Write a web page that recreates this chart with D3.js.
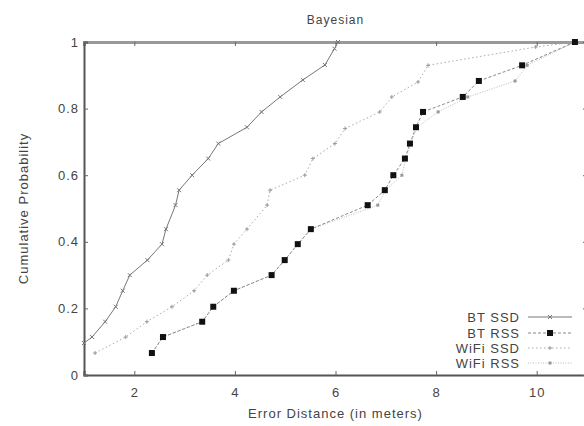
<!DOCTYPE html>
<html>
<head>
<meta charset="utf-8">
<script src="https://cdn.jsdelivr.net/npm/d3@7"></script>
<style>
  body { margin: 0; background: #fff; }
  text { font-family: "Liberation Sans", Arial, sans-serif; fill: #444; letter-spacing: 1px; }
</style>
</head>
<body>
<div id="chart"></div>
<script>
// chart values
var xTicks = [2, 4, 6, 8, 10];
var yTicks = [0, 0.2, 0.4, 0.6, 0.8, 1];
var seriesNames = ["BT SSD", "BT RSS", "WiFi SSD", "WiFi RSS"];

var btSsd = [[1.0, 0.096], [1.16, 0.114], [1.42, 0.16], [1.63, 0.205], [1.77, 0.253], [1.91, 0.30],
  [2.26, 0.345], [2.55, 0.393], [2.63, 0.438], [2.82, 0.51], [2.89, 0.555], [3.15, 0.60],
  [3.47, 0.65], [3.67, 0.695], [4.24, 0.744], [4.53, 0.79], [4.90, 0.835], [5.35, 0.886],
  [5.79, 0.931], [5.98, 0.98], [6.05, 1.0]];
var btRss = [[2.35, 0.066], [2.57, 0.114], [3.35, 0.16], [3.57, 0.205], [3.98, 0.253], [4.73, 0.30],
  [4.99, 0.345], [5.25, 0.393], [5.51, 0.438], [6.64, 0.51], [6.98, 0.555], [7.15, 0.60],
  [7.38, 0.65], [7.48, 0.695], [7.60, 0.744], [7.74, 0.79], [8.53, 0.835], [8.85, 0.883],
  [9.71, 0.93], [10.76, 1.0]];
var wifiSsd = [[1.22, 0.066], [1.83, 0.114], [2.25, 0.16], [2.75, 0.205], [3.19, 0.253], [3.45, 0.30],
  [3.87, 0.345], [3.98, 0.393], [4.24, 0.438], [4.64, 0.51], [4.70, 0.555], [5.39, 0.60],
  [5.55, 0.65], [5.99, 0.695], [6.19, 0.74], [6.88, 0.79], [7.12, 0.835], [7.64, 0.88],
  [7.84, 0.93], [9.98, 0.985], [10.76, 1.0]];
var wifiRss = [[2.35, 0.066], [2.57, 0.114], [3.35, 0.16], [3.57, 0.205], [3.98, 0.253], [4.73, 0.30],
  [4.99, 0.345], [5.25, 0.393], [5.51, 0.438], [6.84, 0.51], [7.0, 0.555], [7.32, 0.60],
  [7.40, 0.65], [7.50, 0.695], [7.62, 0.744], [8.04, 0.79], [8.63, 0.835], [9.57, 0.883],
  [9.81, 0.93], [10.76, 1.0]];

var w = 584, h = 426;
var mLeft = 84, mRight = 587, mTop = 42, mBottom = 375;

var svg = d3.select("#chart").append("svg")
    .attr("width", w)
    .attr("height", h);

var x = d3.scaleLinear().domain([1, 11]).range([mLeft, mRight]);
var y = d3.scaleLinear().domain([0, 1]).range([mBottom, mTop]);

// axes with small inward ticks
svg.append("g")
    .attr("transform", "translate(0," + mBottom + ")")
    .call(d3.axisBottom(x).tickValues(xTicks).tickSize(-4).tickPadding(13).tickFormat(d3.format("d")))
    .call(function (g) { g.select(".domain").attr("stroke", "#555").attr("stroke-width", 2); });
svg.append("g")
    .attr("transform", "translate(0," + mTop + ")")
    .call(d3.axisTop(x).tickValues(xTicks).tickSize(-4).tickFormat(""))
    .call(function (g) { g.select(".domain").attr("stroke", "#999").attr("stroke-width", 3); });
svg.append("g")
    .attr("transform", "translate(" + mLeft + ",0)")
    .call(d3.axisLeft(y).tickValues(yTicks).tickSize(-4).tickPadding(5).tickFormat(d3.format("")))
    .call(function (g) { g.select(".domain").attr("stroke", "#555").attr("stroke-width", 2); });
svg.append("g")
    .attr("transform", "translate(" + mRight + ",0)")
    .call(d3.axisRight(y).tickValues(yTicks).tickSize(-4).tickFormat(""))
    .call(function (g) { g.select(".domain").attr("stroke", "#555"); });

svg.selectAll(".tick line").attr("stroke", "#666");
svg.selectAll(".tick text").style("font-size", "13px").attr("fill", "#444");
svg.selectAll(".domain").attr("fill", "none");

// titles
svg.append("text").attr("x", (mLeft + mRight) / 2).attr("y", 24)
    .attr("text-anchor", "middle").style("font-size", "12px").text("Bayesian");
svg.append("text").attr("x", (mLeft + mRight) / 2).attr("y", 418)
    .attr("text-anchor", "middle").style("font-size", "13px").text("Error Distance (in meters)");
svg.append("text").attr("transform", "translate(28," + (mTop + mBottom) / 2 + ") rotate(-90)")
    .attr("text-anchor", "middle").style("font-size", "13px").text("Cumulative Probability");

var styles = [
  { data: btSsd, stroke: "#777", dash: null, marker: "x", mcolor: "#777" },
  { data: btRss, stroke: "#888", dash: "3,2", marker: "sq", mcolor: "#111" },
  { data: wifiSsd, stroke: "#aaa", dash: "1.5,2.5", marker: "plus", mcolor: "#999" },
  { data: wifiRss, stroke: "#bbb", dash: "1,1.5", marker: "star", mcolor: "#999" }
];

var line = d3.line().x(function (d) { return x(d[0]); }).y(function (d) { return y(d[1]); });

function drawMarker(g, type, cx, cy, color) {
  if (type === "x") {
    g.append("path").attr("d", "M" + (cx - 2) + "," + (cy - 2) + "l4,4M" + (cx - 2) + "," + (cy + 2) + "l4,-4")
      .attr("stroke", color).attr("stroke-width", 1);
  } else if (type === "plus") {
    g.append("path").attr("d", "M" + (cx - 2) + "," + cy + "h4M" + cx + "," + (cy - 2) + "v4")
      .attr("stroke", color).attr("stroke-width", 1);
  } else if (type === "sq") {
    g.append("rect").attr("x", cx - 3).attr("y", cy - 3).attr("width", 6).attr("height", 6)
      .attr("fill", color);
  } else {
    g.append("rect").attr("x", cx - 1.5).attr("y", cy - 1.5).attr("width", 3).attr("height", 3)
      .attr("fill", color);
  }
}

var plot = svg.append("g");
// draw back to front so that BT RSS squares stay on top
[3, 2, 0, 1].forEach(function (i) {
  var s = styles[i];
  var g = plot.append("g");
  g.append("path").datum(s.data).attr("d", line)
    .attr("fill", "none").attr("stroke", s.stroke).attr("stroke-width", 1)
    .attr("stroke-dasharray", s.dash);
  s.data.forEach(function (d) { drawMarker(g, s.marker, x(d[0]), y(d[1]), s.mcolor); });
});

// legend
var legY = [317, 333, 348, 363];
seriesNames.forEach(function (name, i) {
  var s = styles[i];
  var g = svg.append("g");
  g.append("text").attr("x", 520).attr("y", legY[i] + 5).attr("text-anchor", "end")
    .style("font-size", "13px").text(name);
  g.append("line").attr("x1", 528).attr("x2", 572).attr("y1", legY[i]).attr("y2", legY[i])
    .attr("stroke", s.stroke).attr("stroke-dasharray", s.dash);
  drawMarker(g, s.marker, 550, legY[i], s.mcolor);
});
</script>
</body>
</html>
